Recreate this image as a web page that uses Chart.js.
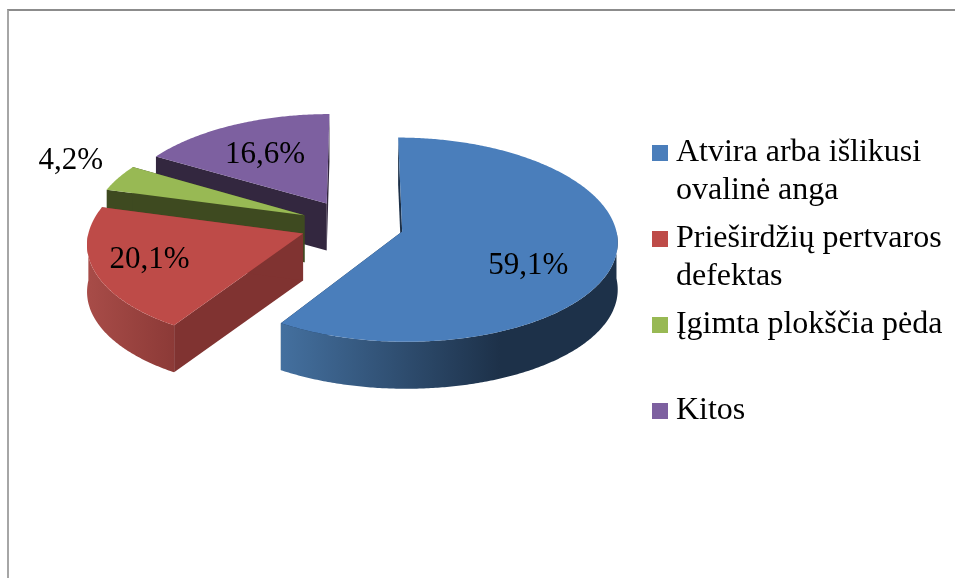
<!DOCTYPE html>
<html lang="lt">
<head>
    <meta charset="UTF-8">
    <title>Pie chart</title>
    <script src="https://cdn.jsdelivr.net/npm/chart.js"></script>
    <style>
        body { margin: 0; background: #fff; overflow: hidden; }
        #frame {
            position: absolute; left: 7px; top: 9px; width: 948px; height: 569px;
            border-top: 2px solid #8c8c8c; border-left: 2px solid #a6a6a6;
        }
        canvas { position: absolute; left: 0; top: 0; }
    </style>
</head>
<body>
    <div id="frame"></div>
    <canvas id="pie" width="955" height="578"></canvas>
    <script>
        const categories = [
            ['Atvira arba išlikusi', 'ovalinė anga'],
            ['Prieširdžių pertvaros', 'defektas'],
            ['Įgimta plokščia pėda', ''],
            ['Kitos']
        ];
        const values = [59.1, 20.1, 4.2, 16.6];
        const topColors = ['#4a7ebb', '#be4b48', '#98b954', '#7d60a0'];
        const cutColors = ['#1c3048', '#803331', '#3e4a20', '#33273f'];
        const rimLeftColors = ['#44709f', '#a84c48', '#3e4a20', '#33273f'];
        const rimRightColors = ['#1d3149', '#8c3a37', '#3e4a20', '#33273f'];
        const labelRadius = [0.64, 0.733, 1.33, 0.64];
        const labelTurn = [8.6, 1.9, 3.7, 0];

        const radius = 213, explode = 52, depth = 47;
        const centreX = 352, centreY = 224.6;
        const vanishX = 5, perspX = 0.09, squash = 101, perspY = 0.08;

        // rough 3D look: world point on the pie plane -> point on screen
        function project(wx, wy) {
            const v = wy / radius;
            return {
                x: centreX + vanishX + (wx - vanishX) * (1 + perspX * v),
                y: centreY + squash * v * (1 + perspY * v)
            };
        }

        function rimPoints(ox, oy, from, to) {
            const pts = [];
            const steps = Math.max(2, Math.ceil((to - from) / 0.01));
            for (let i = 0; i <= steps; i++) {
                const a = from + (to - from) * i / steps;
                pts.push(project(ox + radius * Math.cos(a), oy + radius * Math.sin(a)));
            }
            return pts;
        }

        function fillPoly(ctx, pts, style) {
            ctx.beginPath();
            pts.forEach((p, i) => i ? ctx.lineTo(p.x, p.y) : ctx.moveTo(p.x, p.y));
            ctx.closePath();
            ctx.fillStyle = style;
            ctx.fill();
        }

        const down = p => ({ x: p.x, y: p.y + depth });

        const pie3d = {
            id: 'pie3d',
            beforeDatasetsDraw(chart) {
                const ctx = chart.ctx;
                const arcs = chart.getDatasetMeta(0).data;
                // back slices first
                [3, 2, 1, 0].forEach(i => {
                    const arc = arcs[i];
                    const mid = (arc.startAngle + arc.endAngle) / 2;
                    const ox = Math.cos(mid) * arc.options.offset;
                    const oy = Math.sin(mid) * arc.options.offset;
                    const apex = project(ox, oy);
                    const rim = rimPoints(ox, oy, arc.startAngle, arc.endAngle);

                    // cut faces
                    [rim[0], rim[rim.length - 1]].forEach(p => {
                        fillPoly(ctx, [apex, p, down(p), down(apex)], cutColors[i]);
                    });

                    // outer wall, only the part turned to the viewer
                    const from = Math.max(arc.startAngle, 0), to = Math.min(arc.endAngle, Math.PI);
                    if (to > from) {
                        const front = rimPoints(ox, oy, from, to);
                        const xs = front.map(p => p.x);
                        const grad = ctx.createLinearGradient(Math.min(...xs), 0, Math.max(...xs), 0);
                        grad.addColorStop(0, rimLeftColors[i]);
                        grad.addColorStop(i === 0 ? 0.65 : 1, rimRightColors[i]);
                        grad.addColorStop(1, rimRightColors[i]);
                        fillPoly(ctx, front.concat(front.map(down).reverse()), grad);
                    }

                    // top face
                    fillPoly(ctx, [apex].concat(rim), topColors[i]);
                });

                // value labels
                ctx.font = '31px "Liberation Serif"';
                ctx.fillStyle = '#000';
                ctx.textAlign = 'center';
                ctx.textBaseline = 'middle';
                arcs.forEach((arc, i) => {
                    const mid = (arc.startAngle + arc.endAngle) / 2 + labelTurn[i] * Math.PI / 180;
                    const r = arc.options.offset + radius * labelRadius[i];
                    const p = project(Math.cos(mid) * r, Math.sin(mid) * r);
                    ctx.fillText(values[i].toFixed(1).replace('.', ',') + '%', p.x, p.y + 2.5);
                });
                return false;
            }
        };

        // legend square, drawn as a point style so the text sits closer to it
        function legendSquare(color) {
            const c = document.createElement('canvas');
            c.width = 16;
            c.height = 16;
            const g = c.getContext('2d');
            g.fillStyle = color;
            g.fillRect(0, 0, 16, 16);
            return c;
        }

        new Chart(document.getElementById('pie'), {
            type: 'pie',
            data: {
                labels: categories,
                datasets: [{
                    data: values,
                    backgroundColor: topColors,
                    borderWidth: 0,
                    offset: explode,
                    radius: radius
                }]
            },
            plugins: [pie3d],
            options: {
                responsive: false,
                animation: false,
                events: [],
                layout: { padding: { top: 127, right: 2.5, bottom: 10, left: 0 } },
                plugins: {
                    tooltip: { enabled: false },
                    legend: {
                        position: 'right',
                        align: 'start',
                        labels: {
                            usePointStyle: true,
                            pointStyleWidth: 0.01,
                            boxHeight: 16,
                            padding: 10,
                            color: '#000',
                            font: { family: 'Liberation Serif', size: 32, lineHeight: 38 / 32 },
                            generateLabels(chart) {
                                return categories.map((text, i) => ({
                                    text: text,
                                    fillStyle: topColors[i],
                                    pointStyle: legendSquare(topColors[i]),
                                    lineWidth: 0,
                                    strokeStyle: 'transparent',
                                    index: i
                                }));
                            }
                        }
                    }
                }
            }
        });
    </script>
</body>
</html>
